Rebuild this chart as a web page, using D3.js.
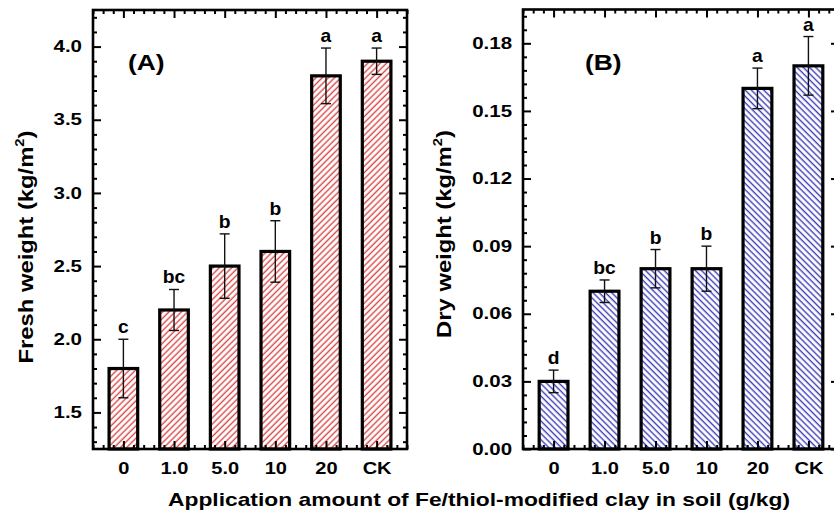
<!DOCTYPE html>
<html><head><meta charset="utf-8">
<script src="https://cdn.jsdelivr.net/npm/d3@7"></script>
<style>
body{margin:0;background:#fff;}
svg{display:block;font-family:"Liberation Sans",Arial,Helvetica,sans-serif;font-weight:bold;}
</style></head>
<body>
<svg id="chart" width="834" height="515"></svg>
<script>
const categories = ["0","1.0","5.0","10","20","CK"];
const freshMean = [1.8, 2.2, 2.5, 2.6, 3.8, 3.9];
const freshErr = [0.2, 0.14, 0.22, 0.21, 0.19, 0.09];
const freshLetters = ["c","bc","b","b","a","a"];
const dryMean = [0.03, 0.07, 0.08, 0.08, 0.16, 0.17];
const dryErr = [0.005, 0.005, 0.0085, 0.01, 0.009, 0.013];
const dryLetters = ["d","bc","b","b","a","a"];
const freshTicks = ["1.5","2.0","2.5","3.0","3.5","4.0"];
const dryTicks = ["0.00","0.03","0.06","0.09","0.12","0.15","0.18"];

const FONT = "Liberation Sans, Arial, sans-serif";
const SX = 1.28;
const svg = d3.select("#chart");
const defs = svg.append("defs");
function hatch(id, color, angle){
  const p = defs.append("pattern").attr("id", id).attr("patternUnits","userSpaceOnUse")
    .attr("width", 4.4).attr("height", 10).attr("patternTransform", `rotate(${angle})`);
  p.append("rect").attr("width",4.4).attr("height",10).attr("fill","#fff");
  p.append("line").attr("x1",1.2).attr("x2",1.2).attr("y1",-1).attr("y2",11)
    .attr("stroke", color).attr("stroke-width", 1.4);
}
hatch("hatchRed", "#d84848", 45);
hatch("hatchBlue", "#3c3cb8", -45);

function panel(opts){
  const {x0, x1, y0, y1, domain, means, errs, letters, majors, majorLabels, minors, fill, tag, tagX, title, titleX, titleY, titleSize} = opts;
  const g = svg.append("g");
  const x = d3.scaleLinear().domain([0.4, 6.6]).range([x0, x1]);
  const y = d3.scaleLinear().domain(domain).range([y1, y0]);
  const idx = d3.range(1, 7);
  const xMinor = d3.range(2, 34).map(v => v/5).filter(v => Math.abs(v - Math.round(v)) > 1e-6);

  const bw = 0.565;
  g.selectAll("rect.bar").data(means).join("rect").attr("class","bar")
    .attr("x", (d,i) => x(i+1 - bw/2)).attr("width", x(bw) - x(0))
    .attr("y", d => y(d)).attr("height", d => y(domain[0]) - y(d))
    .attr("fill", `url(#${fill})`).attr("stroke", "#000").attr("stroke-width", 3.2);

  const eg = g.append("g").attr("stroke","#111").attr("stroke-width",1.4);
  means.forEach((m,i) => {
    const cx = x(i+1);
    eg.append("line").attr("x1",cx).attr("x2",cx).attr("y1",y(m-errs[i])).attr("y2",y(m+errs[i]));
    eg.append("line").attr("x1",cx-5).attr("x2",cx+5).attr("y1",y(m-errs[i])).attr("y2",y(m-errs[i]));
    eg.append("line").attr("x1",cx-5).attr("x2",cx+5).attr("y1",y(m+errs[i])).attr("y2",y(m+errs[i]));
  });
  g.selectAll("text.letter").data(letters).join("text").attr("class","letter")
    .attr("transform",(d,i)=>`translate(${x(i+1)},${y(means[i]+errs[i]) - 6}) scale(1.1,1)`)
    .attr("text-anchor","middle").attr("font-size",17.5).text(d=>d);

  function styleAxis(sel){
    sel.select(".domain").remove();
    sel.selectAll(".tick line").attr("stroke","#000").attr("stroke-width",2);
    sel.selectAll(".tick text").attr("fill","#000").attr("font-size",16)
      .attr("font-family",FONT).attr("font-weight","bold");
  }
  const xb = g.append("g").attr("transform",`translate(0,${y1})`)
    .call(d3.axisBottom(x).tickValues(idx).tickFormat(i=>categories[i-1]).tickSize(-8).tickPadding(14)).call(styleAxis);
  xb.selectAll(".tick text").attr("transform",`scale(${SX*0.98},1)`);
  g.append("g").attr("transform",`translate(0,${y1})`)
    .call(d3.axisBottom(x).tickValues(xMinor).tickFormat("").tickSize(-4)).call(styleAxis);
  g.append("g").attr("transform",`translate(0,${y0})`)
    .call(d3.axisTop(x).tickValues(idx).tickFormat("").tickSize(-8)).call(styleAxis);
  g.append("g").attr("transform",`translate(0,${y0})`)
    .call(d3.axisTop(x).tickValues(xMinor).tickFormat("").tickSize(-4)).call(styleAxis);
  const yl = g.append("g").attr("transform",`translate(${x0},0)`)
    .call(d3.axisLeft(y).tickValues(majors).tickFormat((d,i)=>majorLabels[i]).tickSize(-8).tickPadding(11)).call(styleAxis);
  yl.selectAll(".tick text").attr("x", -11/SX).attr("transform",`scale(${SX},1)`);
  g.append("g").attr("transform",`translate(${x0},0)`)
    .call(d3.axisLeft(y).tickValues(minors).tickFormat("").tickSize(-4)).call(styleAxis);
  g.append("g").attr("transform",`translate(${x1},0)`)
    .call(d3.axisRight(y).tickValues(majors).tickFormat("").tickSize(-8)).call(styleAxis);
  g.append("g").attr("transform",`translate(${x1},0)`)
    .call(d3.axisRight(y).tickValues(minors).tickFormat("").tickSize(-4)).call(styleAxis);

  g.append("rect").attr("x",x0).attr("y",y0).attr("width",x1-x0).attr("height",y1-y0)
    .attr("fill","none").attr("stroke","#000").attr("stroke-width",2.6);

  g.append("text").attr("transform",`translate(${tagX},70) scale(1.2,1)`).attr("font-size",22).text(tag);

  const t = g.append("text").attr("transform",`translate(${titleX},${titleY}) rotate(-90) scale(1.22,1)`)
    .attr("text-anchor","middle").attr("font-size",titleSize);
  t.append("tspan").text(title);
  t.append("tspan").attr("font-size",titleSize*0.62).attr("dy",-titleSize*0.45).text("2");
  t.append("tspan").attr("dy",titleSize*0.45).text(")");
}

panel({x0:93, x1:407, y0:10, y1:449, domain:[1.25,4.25], means:freshMean, errs:freshErr, letters:freshLetters,
  majors:freshTicks.map(Number), majorLabels:freshTicks,
  minors:d3.range(13,43).filter(v=>v%5!==0).map(v=>v/10), fill:"hatchRed", tag:"(A)", tagX:128,
  title:"Fresh weight (kg/m", titleX:33, titleY:247, titleSize:19.5});
panel({x0:523, x1:839, y0:9.5, y1:449, domain:[0,0.195], means:dryMean, errs:dryErr, letters:dryLetters,
  majors:dryTicks.map(Number), majorLabels:dryTicks,
  minors:d3.range(1,33).filter(v=>v%5!==0).map(v=>v*0.006), fill:"hatchBlue", tag:"(B)", tagX:585,
  title:"Dry weight (kg/m", titleX:451, titleY:234, titleSize:19.5});

svg.append("text").attr("x",479).attr("y",506).attr("text-anchor","middle").attr("font-size",18.5)
  .attr("textLength",622).attr("lengthAdjust","spacingAndGlyphs")
  .text("Application amount of Fe/thiol-modified clay in soil (g/kg)");
</script>
</body></html>
